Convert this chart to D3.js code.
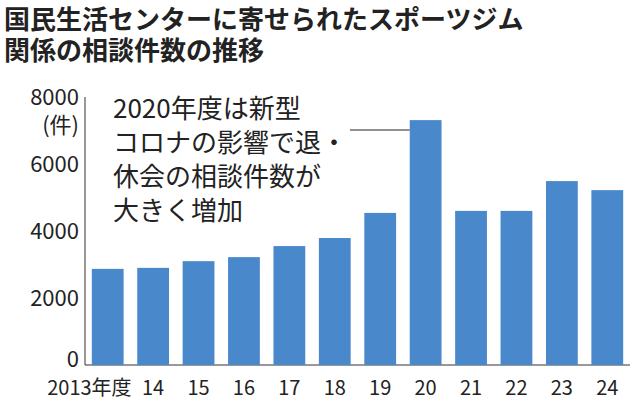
<!DOCTYPE html>
<html><head><meta charset="utf-8">
<script src="https://cdn.jsdelivr.net/npm/d3@7"></script>
<style>body{margin:0;background:#fff}</style></head>
<body><svg id="c" width="640" height="402"></svg>
<script>
const years=["2013年度","14","15","16","17","18","19","20","21","22","23","24"];
const counts=[2870,2900,3100,3220,3550,3790,4540,7310,4600,4600,5490,5220];
const yTicks=[0,2000,4000,6000,8000];
const titleLines=["国民生活センターに寄せられたスポーツジム","関係の相談件数の推移"];
const noteLines=["2020年度は新型","コロナの影響で退・","休会の相談件数が","大きく増加"];

const svg=d3.select("#c");
const f="'Noto Sans CJK JP',sans-serif";
svg.selectAll("text.t").data(titleLines).join("text").attr("x",4).attr("y",(d,i)=>29+i*31)
 .attr("font-family",f).attr("font-weight","bold").attr("font-size",26).attr("fill","#222").text(d=>d);
const x=d3.scaleBand().domain(years).range([85,630]).paddingInner(0.3).paddingOuter(0.15);
const y=d3.scaleLinear().domain([0,8000]).range([365,97]);
svg.append("line").attr("x1",85).attr("x2",85).attr("y1",y(8000)).attr("y2",y(0)).attr("stroke","#333");
svg.append("line").attr("x1",85).attr("x2",630).attr("y1",y(0)).attr("y2",y(0)).attr("stroke","#333");
svg.selectAll("text.yt").data(yTicks).join("text").attr("x",79).attr("y",d=>d==0?y(d)+2:y(d)+8).attr("text-anchor","end")
 .attr("font-family",f).attr("font-size",22).attr("fill","#222").text(d=>d);
svg.append("text").attr("x",79).attr("y",y(8000)+36).attr("text-anchor","end").attr("font-family",f).attr("font-size",22).attr("fill","#222").text("(件)");
svg.selectAll("rect").data(counts).join("rect").attr("x",(d,i)=>x(years[i])).attr("width",x.bandwidth())
 .attr("y",d=>y(d)).attr("height",d=>y(0)-y(d)).attr("fill","#4a88cc");
svg.selectAll("text.xt").data(years).join("text").attr("x",(d,i)=>i==0?x(d)+x.bandwidth()+8:x(d)+x.bandwidth()/2)
 .attr("y",395).attr("text-anchor",(d,i)=>i==0?"end":"middle").attr("font-family",f).attr("font-size",20).attr("fill","#222").text(d=>d);
svg.selectAll("text.n").data(noteLines).join("text").attr("x",113).attr("y",(d,i)=>118+i*34)
 .attr("font-family",f).attr("font-size",26).attr("fill","#222").text(d=>d);
svg.append("line").attr("x1",350).attr("x2",x("20")).attr("y1",130).attr("y2",130).attr("stroke","#222");
</script></body></html>
